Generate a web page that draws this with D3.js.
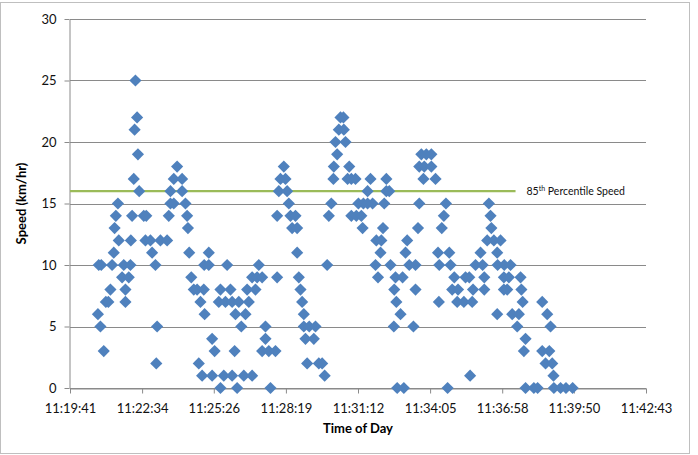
<!DOCTYPE html>
<html>
<head>
<meta charset="utf-8">
<script src="https://cdnjs.cloudflare.com/ajax/libs/d3/7.8.5/d3.min.js"></script>
<style>
  body { margin: 0; background: #fff; }
  svg { font-family: Lato, "Open Sans", sans-serif; }
</style>
</head>
<body>
<script>
const WIDTH = 698;
const HEIGHT = 455;
const MARGIN = { top: 19, right: 52, bottom: 67, left: 70 };

// axis ticks as printed on the chart
const xTickLabels = ["11:19:41", "11:22:34", "11:25:26", "11:28:19", "11:31:12",
  "11:34:05", "11:36:58", "11:39:50", "11:42:43"];
const yTicks = [0, 5, 10, 15, 20, 25, 30];

// spot speed readings (time of day, km/hr)
const times = [
  "11:22:18", "11:22:22", "11:22:16", "11:22:24", "11:22:14", "11:22:27", "11:21:36", "11:21:31", "11:22:10", "11:22:38", "11:22:44",
  "11:21:28", "11:21:38", "11:22:07", "11:22:42", "11:22:54", "11:23:18", "11:21:26", "11:22:58", "11:20:50", "11:20:56", "11:21:22",
  "11:21:50", "11:22:06", "11:23:06", "11:21:46", "11:22:02", "11:21:18", "11:21:54", "11:21:07", "11:21:13", "11:21:54", "11:20:48",
  "11:20:54", "11:23:10", "11:21:02", "11:23:08",

  "11:23:58", "11:23:50", "11:24:10", "11:23:42", "11:24:10", "11:23:42", "11:23:50", "11:24:18", "11:23:38", "11:24:22", "11:24:24",
  "11:23:34", "11:24:27", "11:25:14", "11:25:03", "11:25:14", "11:25:58", "11:24:32", "11:24:38", "11:24:46", "11:25:02", "11:25:42",
  "11:26:06", "11:24:54", "11:25:38", "11:25:54", "11:26:10", "11:26:26", "11:25:04", "11:26:18", "11:26:32", "11:25:22", "11:25:28",
  "11:26:16", "11:24:50", "11:24:58", "11:25:22", "11:25:50", "11:26:10", "11:26:38", "11:25:42", "11:26:22",

  "11:28:14", "11:28:06", "11:28:18", "11:28:02", "11:28:22", "11:28:26", "11:27:58", "11:28:30", "11:28:42", "11:28:34", "11:28:46",
  "11:28:46", "11:27:14", "11:26:58", "11:27:10", "11:27:22", "11:27:58", "11:28:50", "11:26:46", "11:27:06", "11:28:54", "11:26:50",
  "11:28:58", "11:26:42", "11:29:02", "11:27:30", "11:29:02", "11:29:15", "11:29:30", "11:27:30", "11:29:06", "11:29:26", "11:27:22",
  "11:27:38", "11:27:54", "11:29:10", "11:29:38", "11:29:46", "11:26:58", "11:29:52", "11:27:42",

  "11:30:30", "11:30:37", "11:30:26", "11:30:38", "11:30:18", "11:30:42", "11:30:22", "11:30:14", "11:30:51", "11:30:13", "11:30:47",
  "11:30:56", "11:31:06", "11:31:42", "11:32:20", "11:31:35", "11:32:20", "11:32:27", "11:30:08", "11:31:13", "11:31:25", "11:31:35",
  "11:31:47", "11:32:15", "11:30:02", "11:30:56", "11:31:08", "11:31:20", "11:31:23", "11:32:12", "11:31:56", "11:32:08", "11:33:10",
  "11:32:06", "11:33:06", "11:29:58", "11:31:54", "11:32:30", "11:33:15", "11:32:00", "11:32:42", "11:32:59", "11:32:39", "11:32:44",
  "11:32:54", "11:32:38", "11:33:25", "11:32:46", "11:33:02",

  "11:33:44", "11:33:56", "11:34:08", "11:33:39", "11:33:51", "11:34:08", "11:33:49", "11:34:18", "11:33:39", "11:34:43", "11:34:38",
  "11:33:36", "11:34:33", "11:34:24", "11:34:51", "11:36:06", "11:33:30", "11:34:27", "11:34:54", "11:35:54", "11:36:11", "11:35:03",
  "11:35:30", "11:35:39", "11:36:15", "11:33:30", "11:34:58", "11:35:12", "11:35:48", "11:36:15", "11:34:26", "11:35:10", "11:35:26",
  "11:35:46", "11:35:41", "11:34:47",

  "11:36:26", "11:36:30", "11:36:32", "11:36:22", "11:36:38", "11:36:54", "11:36:46", "11:36:47", "11:37:03", "11:37:18", "11:37:02",
  "11:37:14", "11:37:42", "11:37:02", "11:37:10", "11:37:44", "11:37:47", "11:38:34", "11:36:46", "11:37:22", "11:37:38", "11:38:46",
  "11:37:34", "11:38:54", "11:37:54", "11:37:50", "11:38:34", "11:38:51", "11:38:42", "11:38:58", "11:39:01", "11:37:54", "11:38:14",
  "11:38:23", "11:39:02", "11:39:18", "11:39:31", "11:39:47"
];
const speeds = [
  25, 22, 21, 19, 17, 16, 15, 14, 14, 14, 14,
  13, 12, 12, 12, 12, 12, 11, 11, 10, 10, 10,
  10, 10, 10, 9, 9, 8, 8, 7, 7, 7, 6,
  5, 5, 3, 2,

  18, 17, 17, 16, 16, 15, 15, 15, 14, 14, 13,
  12, 11, 11, 10, 10, 10, 9, 8, 8, 8, 8,
  8, 7, 7, 7, 7, 7, 6, 6, 5, 4, 3,
  3, 2, 1, 1, 1, 1, 1, 0, 0,

  18, 17, 17, 16, 16, 15, 14, 14, 14, 13, 13,
  11, 10, 9, 9, 9, 9, 9, 8, 8, 8, 7,
  7, 6, 6, 5, 5, 5, 5, 4, 4, 4, 3,
  3, 3, 2, 2, 2, 1, 1, 0,

  22, 22, 21, 21, 20, 20, 19, 18, 18, 17, 17,
  17, 17, 17, 17, 16, 16, 16, 15, 15, 15, 15,
  15, 15, 14, 14, 14, 14, 13, 13, 12, 12, 12,
  11, 11, 10, 10, 10, 10, 9, 9, 9, 8, 7,
  6, 5, 5, 0, 0,

  19, 19, 19, 18, 18, 18, 17, 17, 15, 15, 14,
  13, 13, 11, 11, 11, 10, 10, 10, 10, 10, 9,
  9, 9, 9, 8, 8, 8, 8, 8, 7, 7, 7,
  7, 1, 0,

  15, 14, 13, 12, 12, 12, 11, 10, 10, 10, 9,
  9, 9, 8, 8, 8, 7, 7, 6, 6, 6, 6,
  5, 5, 4, 3, 3, 3, 2, 2, 1, 0, 0,
  0, 0, 0, 0, 0
];

// 85th percentile reference line
const percentileTimes = ["11:19:41", "11:37:30"];
const percentileSpeed = 16;

const toSeconds = t => {
  const [h, m, s] = t.split(":").map(Number);
  return h * 3600 + m * 60 + s;
};

const svg = d3.select("body").append("svg")
  .attr("width", WIDTH)
  .attr("height", HEIGHT);

// chart frame
svg.append("rect")
  .attr("x", 0.5).attr("y", 2.5)
  .attr("width", 689).attr("height", 451)
  .attr("fill", "#fff")
  .attr("stroke", "#bfbfbf");

const xScale = d3.scaleLinear()
  .domain([toSeconds(xTickLabels[0]), toSeconds(xTickLabels[xTickLabels.length - 1])])
  .range([MARGIN.left, WIDTH - MARGIN.right]);

const yScale = d3.scaleLinear()
  .domain([0, 30])
  .range([HEIGHT - MARGIN.bottom, MARGIN.top]);

// horizontal gridlines
svg.append("g")
  .selectAll("line")
  .data(yTicks)
  .join("line")
  .attr("x1", MARGIN.left)
  .attr("x2", WIDTH - MARGIN.right)
  .attr("y1", d => Math.round(yScale(d)) + 0.5)
  .attr("y2", d => Math.round(yScale(d)) + 0.5)
  .attr("stroke", "#8a8a8a");

const xAxis = d3.axisBottom(xScale)
  .tickValues(xTickLabels.map(toSeconds))
  .tickFormat((d, i) => xTickLabels[i])
  .tickSize(5)
  .tickPadding(10)
  .tickSizeOuter(0);

const yAxis = d3.axisLeft(yScale)
  .tickValues(yTicks)
  .tickSize(5)
  .tickPadding(8)
  .tickSizeOuter(0);

const gx = svg.append("g")
  .attr("transform", `translate(0,${Math.round(yScale(0)) + 0.5})`)
  .call(xAxis);

const gy = svg.append("g")
  .attr("transform", `translate(${MARGIN.left - 0.5},0)`)
  .call(yAxis);

[gx, gy].forEach(g => {
  g.select(".domain").attr("stroke", "#8a8a8a");
  g.selectAll(".tick line").attr("stroke", "#8a8a8a");
  g.selectAll(".tick text")
    .attr("fill", "#111")
    .style("font-size", "13px")
    .style("font-family", "Lato, 'Open Sans', sans-serif");
});

// percentile line + label
svg.append("line")
  .attr("x1", xScale(toSeconds(percentileTimes[0])))
  .attr("x2", xScale(toSeconds(percentileTimes[1])))
  .attr("y1", yScale(percentileSpeed))
  .attr("y2", yScale(percentileSpeed))
  .attr("stroke", "#9bbb59")
  .attr("stroke-width", 2.25);

const label = svg.append("text")
  .attr("x", xScale(toSeconds(percentileTimes[1])) + 11)
  .attr("y", yScale(percentileSpeed) + 3.5)
  .attr("fill", "#111")
  .style("font-size", "10.5px");
label.append("tspan").text("85");
label.append("tspan").attr("dy", -4).style("font-size", "7px").text("th");
label.append("tspan").attr("dy", 4).text(" Percentile Speed");

// readings
const diamond = d3.symbol().type(d3.symbolSquare).size(74);
svg.append("g")
  .selectAll("path")
  .data(times.map((t, i) => ({ time: toSeconds(t), speed: speeds[i] })))
  .join("path")
  .attr("d", diamond)
  .attr("transform", d => `translate(${xScale(d.time)},${yScale(d.speed)}) rotate(45)`)
  .attr("fill", "#4f81bd");

// axis titles
svg.append("text")
  .attr("x", (MARGIN.left + WIDTH - MARGIN.right) / 2)
  .attr("y", 433)
  .attr("text-anchor", "middle")
  .style("font-size", "13px")
  .style("font-weight", "bold")
  .text("Time of Day");

svg.append("text")
  .attr("transform", `translate(26,${(MARGIN.top + HEIGHT - MARGIN.bottom) / 2}) rotate(-90)`)
  .attr("text-anchor", "middle")
  .style("font-size", "13px")
  .style("font-weight", "bold")
  .text("Speed (km/hr)");
</script>
</body>
</html>
